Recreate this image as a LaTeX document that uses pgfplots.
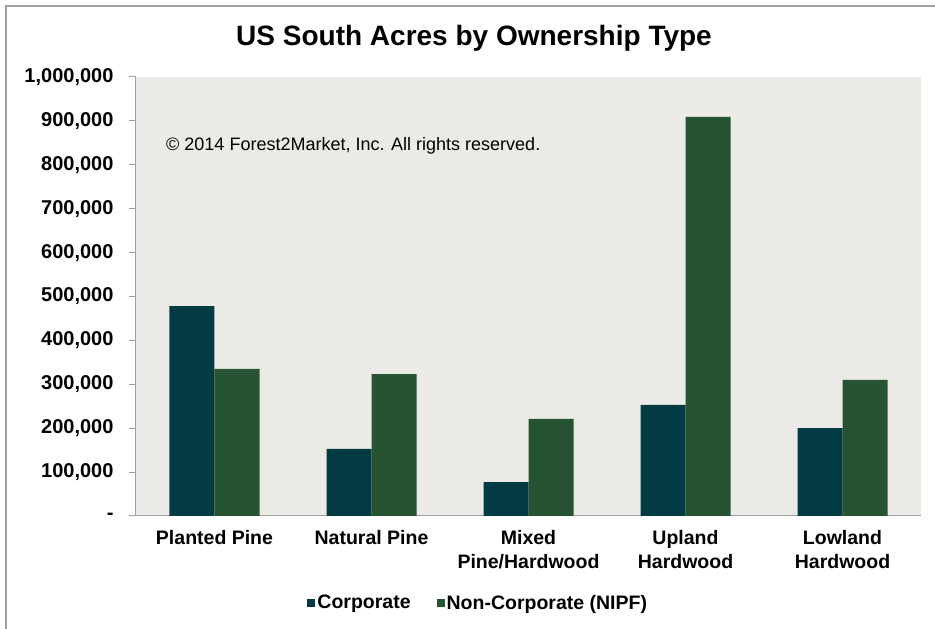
\documentclass[border=0pt]{standalone}
\usepackage{pgfplots}
\pgfplotsset{compat=1.18}
\usepackage{fontspec}
\setmainfont{Liberation Sans}
\definecolor{corp}{HTML}{033B45}
\definecolor{nipf}{HTML}{265433}
\definecolor{bg}{HTML}{ECEAE6}
\definecolor{axgray}{HTML}{A0A0A0}
\begin{document}
\begin{tikzpicture}[x=1pt,y=1pt]
\path[use as bounding box] (0,0) rectangle (935,629);
\draw[axgray,line width=1.5pt] (6,0) -- (6,623) -- (935,623);
\node[font=\bfseries\fontsize{28}{32}\selectfont] at (474,591) {US South Acres by Ownership Type};
\begin{axis}[
  at={(136pt,113pt)}, anchor=south west,
  scale only axis, width=785pt, height=439pt,
  ybar=0pt, bar width=45pt,
  xmin=-0.5, xmax=4.5, ymin=0, ymax=1000000,
  axis background/.style={fill=bg},
  axis x line*=bottom, axis y line*=left,
  axis line style={axgray, line width=1pt},
  xtick={0,1,2,3,4},
  xticklabels={Planted Pine, Natural Pine, {Mixed\\Pine/Hardwood}, {Upland\\Hardwood}, {Lowland\\Hardwood}},
  x tick style={draw=none},
  extra x ticks={-0.5,0.5,1.5,2.5,3.5,4.5},
  extra x tick labels={},
  extra x tick style={tick align=outside, major tick length=7pt, tick style={axgray, line width=1pt, draw=axgray}},
  xticklabel style={font=\bfseries\fontsize{19.5}{23.5}\selectfont, align=center, anchor=north, yshift=-4pt},
  ytick={0,100000,...,1000000},
  yticklabels={-,{100,000},{200,000},{300,000},{400,000},{500,000},{600,000},{700,000},{800,000},{900,000},{1,000,000}},
  yticklabel style={font=\bfseries\fontsize{20}{22}\selectfont, xshift=-12pt, anchor=east},
  y tick style={axgray, line width=1pt},
  tick align=outside, major tick length=7pt,
  scaled y ticks=false,
  legend columns=2,
  legend style={draw=none, fill=none, at={(0.436,-0.198)}, anchor=center,
    font=\bfseries\fontsize{19.5}{22}\selectfont,
    /tikz/every even column/.append style={column sep=24pt}},
  legend image code/.code={\fill[#1,draw=none] (0pt,-4pt) rectangle (8pt,4pt);},
  clip=false,
]
\addplot[fill=corp, draw=none] coordinates {(0,478000) (1,153000) (2,77000) (3,253000) (4,200000)};
\addplot[fill=nipf, draw=none] coordinates {(0,335000) (1,323000) (2,221000) (3,909000) (4,310000)};
\legend{Corporate, Non-Corporate (NIPF)}
\node[anchor=west, font=\fontsize{18}{20}\selectfont] at (rel axis cs:0.034,0.843) {\textcopyright{} 2014 Forest2Market, Inc. All rights reserved.};
\end{axis}
\end{tikzpicture}
\end{document}
